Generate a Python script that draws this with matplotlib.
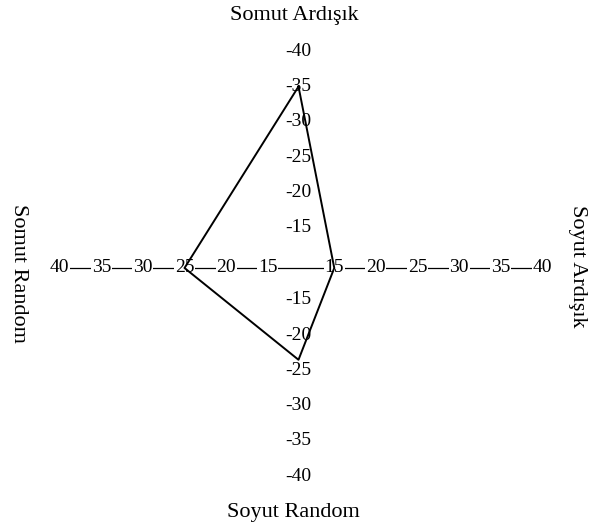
import numpy as np
import matplotlib.pyplot as plt

# Werte der vier Lernstil-Achsen
axis_names = ["Somut Ardışık", "Soyut Ardışık", "Soyut Random", "Somut Random"]
scores = [35, 15, 23.5, 25]          # oben, rechts, unten, links
tick_values = [15, 20, 25, 30, 35, 40]
# Abstand der 15 vom Mittelpunkt je Arm (oben, rechts, unten, links)
gaps = [5.7, 4.3, 4.5, 3.7]

plt.rcParams['font.family'] = ['Liberation Serif', 'DejaVu Serif']

def pos(v, arm):
    return gaps[arm] + (v - 15)

fig = plt.figure(figsize=(6.03, 5.29), dpi=100)
ax = fig.add_axes([0, 0, 1, 1])
sx, sy = 8.32, 7.06                  # Pixel pro Einheit
ax.set_xlim(-298.5 / sx, (603 - 298.5) / sx)
ax.set_ylim(-261 / sy, 268 / sy)
ax.axis('off')

# horizontale Linie hinter den Zahlen
ax.plot([-pos(40, 3), pos(40, 1)], [0, 0], color='black', lw=0.9, zorder=1)

box = dict(facecolor='white', edgecolor='none', pad=0.6)
for t in tick_values:
    ax.text(-pos(t, 3), 0, str(t), ha='center', va='center', fontsize=14, bbox=box, zorder=2)
    ax.text(pos(t, 1), 0, str(t), ha='center', va='center', fontsize=14, bbox=box, zorder=2)
    ax.text(0, pos(t, 0), "-" + str(t), ha='center', va='center', fontsize=14, zorder=2)
    ax.text(0, -pos(t, 2), "-" + str(t), ha='center', va='center', fontsize=14, zorder=2)

# Polygon aus den vier Werten
top, right, bottom, left = scores
xs = [0, pos(right, 1), 0, -pos(left, 3), 0]
ys = [pos(top, 0), 0, -pos(bottom, 2), 0, pos(top, 0)]
ax.plot(xs, ys, color='black', lw=1.4, zorder=3)

fig.text(0.4876, 0.971, axis_names[0], ha='center', va='center', fontsize=16)
fig.text(0.958, 0.497, axis_names[1], ha='center', va='center', fontsize=16, rotation=270)
fig.text(0.486, 0.032, axis_names[2], ha='center', va='center', fontsize=16)
fig.text(0.030, 0.484, axis_names[3], ha='center', va='center', fontsize=16, rotation=270)

fig.savefig("out.png", dpi=100)
